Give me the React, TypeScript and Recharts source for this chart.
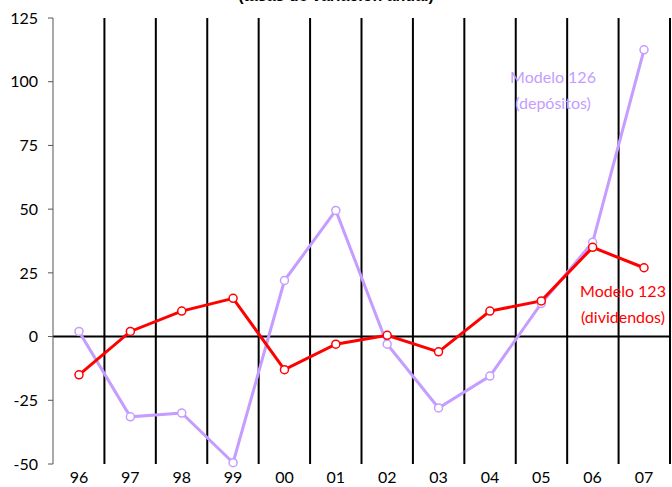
import React from "react";
import {
  LineChart,
  Line,
  XAxis,
  YAxis,
  CartesianGrid,
  ReferenceLine,
} from "recharts";

const years = ["96", "97", "98", "99", "00", "01", "02", "03", "04", "05", "06", "07"];
const modelo123 = [-15, 2, 10, 15, -13, -3, 0.5, -6, 10, 14, 35, 27];
const modelo126 = [2, -31.5, -30, -49.5, 22, 49.5, -3, -28, -15.5, 13, 37, 112.5];
const yTicks = [-50, -25, 0, 25, 50, 75, 100, 125];

const RED = "#ff0000";
const PURPLE = "#c59cff";
const FONT = "Lato, 'Open Sans', sans-serif";

const data = years.map((year, i) => ({
  year,
  m123: modelo123[i],
  m126: modelo126[i],
}));

// vertical separators at band boundaries
const bandLines = ({ offset }: any) => {
  const n = years.length;
  const step = offset.width / n;
  const xs: number[] = [];
  for (let i = 1; i <= n; i++) xs.push(offset.left + step * i);
  return xs;
};

const HollowDot = (color: string) => (props: any) => {
  const { cx, cy, index } = props;
  if (cx == null || cy == null) return null;
  return (
    <circle
      key={`d-${index}`}
      cx={cx}
      cy={cy}
      r={4}
      fill="#fff"
      stroke={color}
      strokeWidth={1.5}
    />
  );
};

export default function App() {
  return (
    <div
      style={{
        position: "absolute",
        top: 0,
        left: 0,
        width: 672,
        height: 487,
        overflow: "hidden",
        background: "#fff",
        fontFamily: FONT,
      }}
    >
      <div
        style={{
          position: "absolute",
          top: -13,
          left: 0,
          width: 672,
          textAlign: "center",
          fontFamily: "'Liberation Sans', Arial, sans-serif",
          fontWeight: "bold",
          fontSize: 16,
          color: "#000",
        }}
      >
        (tasas de variación anual)
      </div>
      <LineChart
        width={672}
        height={487}
        data={data}
        margin={{ top: 18, right: 2, bottom: 0, left: 0 }}
      >
        <CartesianGrid
          horizontal={false}
          vertical
          stroke="#000"
          strokeWidth={2}
          verticalCoordinatesGenerator={bandLines}
        />
        <XAxis
          dataKey="year"
          height={23}
          padding={{ left: 26, right: 26 }}
          axisLine={false}
          tickLine={false}
          tickSize={0}
          tickMargin={8}
          interval={0}
          tick={{ fill: "#000", fontSize: 16, fontFamily: FONT }}
        />
        <YAxis
          width={53}
          domain={[-50, 125]}
          ticks={yTicks}
          interval={0}
          tickSize={5}
          tickMargin={10}
          axisLine={{ stroke: "#555", strokeWidth: 1 }}
          tickLine={{ stroke: "#555", strokeWidth: 1 }}
          tick={{ fill: "#000", fontSize: 16, fontFamily: FONT }}
        />
        <ReferenceLine y={0} stroke="#000" strokeWidth={2} />
        <Line
          type="linear"
          dataKey="m126"
          stroke={PURPLE}
          strokeWidth={3}
          dot={HollowDot(PURPLE)}
          isAnimationActive={false}
        />
        <Line
          type="linear"
          dataKey="m123"
          stroke={RED}
          strokeWidth={3}
          dot={HollowDot(RED)}
          isAnimationActive={false}
        />
      </LineChart>
      <div
        style={{
          position: "absolute",
          left: 493,
          top: 64,
          width: 120,
          textAlign: "center",
          color: PURPLE,
          fontSize: 16,
          lineHeight: "26px",
        }}
      >
        Modelo 126
        <br />
        (depósitos)
      </div>
      <div
        style={{
          position: "absolute",
          left: 563,
          top: 278,
          width: 120,
          textAlign: "center",
          color: RED,
          fontSize: 16,
          lineHeight: "26px",
        }}
      >
        Modelo 123
        <br />
        (dividendos)
      </div>
    </div>
  );
}
